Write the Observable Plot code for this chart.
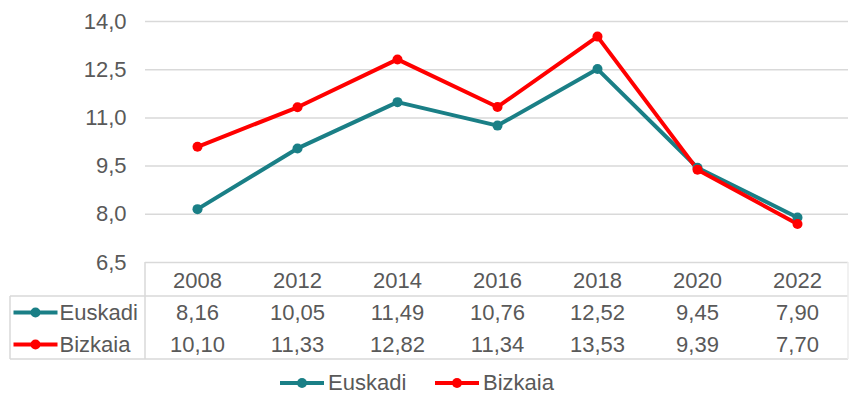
<!DOCTYPE html>
<html>
<head>
<meta charset="utf-8">
<script src="https://cdn.jsdelivr.net/npm/d3@7"></script>
<script src="https://cdn.jsdelivr.net/npm/@observablehq/plot@0.6"></script>
<style>
  html, body { margin: 0; padding: 0; background: #fff; }
  body { width: 850px; height: 408px; overflow: hidden; font-family: "Liberation Sans", Arial, sans-serif; }
  #legend { position: relative; height: 40px; width: 850px; }
  .item { position: absolute; top: 0; height: 30px; display: flex; align-items: center; font-size: 22px; color: #595959; }
  .sw { position: relative; width: 44px; height: 4px; margin-right: 4px; }
  .sw i { position: absolute; left: 17px; top: -3px; width: 10px; height: 10px; border-radius: 50%; }
</style>
</head>
<body>
<div id="chart"></div>
<div id="legend"></div>
<script>
const years = ["2008", "2012", "2014", "2016", "2018", "2020", "2022"];
const euskadi = [8.16, 10.05, 11.49, 10.76, 12.52, 9.45, 7.90];
const bizkaia = [10.10, 11.33, 12.82, 11.34, 13.53, 9.39, 7.70];
const seriesNames = ["Euskadi", "Bizkaia"];
const yTicks = [6.5, 8.0, 9.5, 11.0, 12.5, 14.0];
const colors = ["#1a7f86", "#ff0000"];

const data = [];
years.forEach((y, i) => {
  data.push({year: y, series: "Euskadi", value: euskadi[i]});
  data.push({year: y, series: "Bizkaia", value: bizkaia[i]});
});
const comma = (v, d) => v.toFixed(d).replace(".", ",");

const textGray = "#595959";
const rowDy = {Euskadi: 50, Bizkaia: 82};

const swatchSymbol = {
  draw(context) {
    context.rect(-22, -2, 44, 4);
    context.moveTo(5, 0);
    context.arc(0, 0, 5, 0, 2 * Math.PI);
  }
};

const plot = Plot.plot({
  width: 850,
  height: 368,
  marginLeft: 145,
  marginRight: 2,
  marginTop: 21,
  marginBottom: 106,
  style: {fontFamily: "'Liberation Sans', Arial, sans-serif", fontSize: "22px", color: textGray, background: "#fff"},
  x: {type: "point", domain: years, padding: 0.5, axis: null},
  y: {domain: [6.5, 14], ticks: yTicks, tickFormat: d => comma(d, 1), tickSize: 0, tickPadding: 19, label: null},
  color: {domain: seriesNames, range: colors},
  marks: [
    Plot.gridY(yTicks, {stroke: "#d9d9d9", strokeOpacity: 1, strokeWidth: 1.5}),
    Plot.axisY({ticks: yTicks, tickFormat: d => comma(d, 1), tickSize: 0, tickPadding: 19, fill: textGray, fontSize: 22, label: null}),
    Plot.line(data, {x: "year", y: "value", stroke: "series", strokeWidth: 4, strokeLinejoin: "round"}),
    Plot.dot(data, {x: "year", y: "value", fill: "series", r: 5}),
    // table header
    Plot.text(years, {x: d => d, y: 6.5, dy: 18, fill: textGray, fontSize: 22}),
    // table values
    ...seriesNames.map(s => Plot.text(data.filter(d => d.series === s), {
      x: "year", y: 6.5, dy: rowDy[s], text: d => comma(d.value, 2), fill: textGray, fontSize: 22
    })),
    // row labels
    ...seriesNames.map(s => Plot.text([s], {
      frameAnchor: "left", y: 6.5, dy: rowDy[s], dx: -86, text: d => d, textAnchor: "start", fill: textGray, fontSize: 22
    })),
    ...seriesNames.map((s, i) => Plot.dot([s], {
      frameAnchor: "left", y: 6.5, dy: rowDy[s], dx: -110, symbol: swatchSymbol, fill: colors[i], stroke: "none", r: 5
    }))
  ]
});

// table borders
const svg = d3.select(plot);
const y0 = plot.scale("y").apply(6.5);
const L = 145, R = 848, Lout = 10;
const lines = [
  [L, y0, L, y0 + 97],
  [Lout, y0 + 34, R, y0 + 34],
  [Lout, y0 + 97, R, y0 + 97],
  [Lout, y0 + 34, Lout, y0 + 97],
  [R, y0, R, y0 + 97]
];
svg.append("g").selectAll("line").data(lines).join("line")
  .attr("x1", d => d[0]).attr("y1", d => d[1]).attr("x2", d => d[2]).attr("y2", d => d[3])
  .attr("stroke", (d, i) => i === 4 ? "#ececec" : "#d9d9d9").attr("stroke-width", 1.5);

document.getElementById("chart").appendChild(plot);

// legend
const legend = document.getElementById("legend");
const legendLeft = [280, 435];
seriesNames.forEach((s, i) => {
  const item = document.createElement("div");
  item.className = "item";
  item.style.left = legendLeft[i] + "px";
  item.innerHTML = `<span class="sw" style="background:${colors[i]}"><i style="background:${colors[i]}"></i></span><span>${s}</span>`;
  legend.appendChild(item);
});
</script>
</body>
</html>
